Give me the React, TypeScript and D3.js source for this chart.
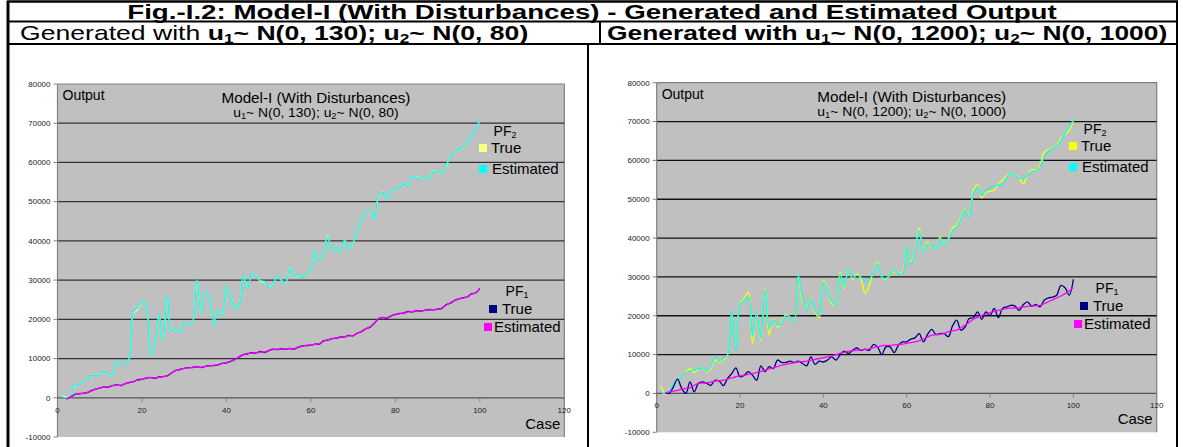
import React, { useEffect, useRef } from 'react';
import * as d3 from 'd3';

// case numbers on the x axis
const cases = d3.range(1, 101);
const xTicks = [0, 20, 40, 60, 80, 100, 120];
const yTicks = [-10000, 0, 10000, 20000, 30000, 40000, 50000, 60000, 70000, 80000];

// ---- left chart: u1 ~ N(0,130), u2 ~ N(0,80)
const leftPF2Est = [
  300, 0, -200, 3200, 3400, 4000, 4800, 5600, 5600, 6000,
  6600, 6100, 5900, 9300, 8500, 8700, 10000, 21900, 22900, 24400,
  23700, 10800, 13400, 21300, 14400, 26100, 17200, 17600, 16800, 19300,
  18600, 19300, 30000, 21400, 26700, 25700, 18600, 22300, 21000, 28500,
  25700, 22700, 23600, 31200, 27800, 31600, 31000, 29900, 29700, 28200,
  28600, 31000, 29900, 29300, 33100, 30800, 31600, 30600, 31600, 32700,
  37300, 35000, 36900, 41200, 37500, 38400, 37100, 40300, 37800, 39700,
  42600, 45200, 47300, 47500, 45600, 51500, 52500, 50800, 52800, 53100,
  53900, 54500, 54100, 56400, 56200, 55600, 56400, 55900, 57700, 57500,
  57300, 59300, 61300, 62400, 63600, 63800, 65500, 66800, 68500, 70800,
];
const leftPF2True = [
  500, 200, -200, 3000, 3500, 4000, 4900, 5500, 5700, 6000,
  6500, 6100, 5900, 9200, 8500, 8800, 10000, 21500, 22500, 24300,
  23700, 10900, 13400, 21200, 14500, 26000, 17400, 17400, 16900, 19200,
  18600, 19400, 29900, 21500, 26600, 25800, 18700, 22200, 21100, 28400,
  25800, 22600, 23700, 31000, 27900, 31500, 31100, 29700, 29400, 28300,
  28600, 30900, 30000, 29200, 33300, 30700, 31400, 30700, 31500, 32900,
  37100, 35100, 36800, 41500, 37400, 38500, 37000, 40200, 37900, 39600,
  42700, 45100, 47400, 47400, 45700, 51200, 52600, 50700, 52900, 53000,
  54000, 54400, 54200, 56300, 56300, 55700, 56300, 56000, 57900, 57400,
  57300, 59000, 61400, 62300, 63700, 63700, 65600, 66700, 68600, 70600,
];
const leftPF1Est = [
  null, -200, 0, 700, 1100, 1100, 1400, 1700, 2200, 2500,
  2800, 2800, 3100, 3200, 3200, 3600, 3800, 4200, 4500, 4700,
  5100, 5100, 5100, 5200, 5400, 5500, 6400, 6900, 7300, 7500,
  7600, 7800, 7800, 7800, 8000, 8100, 8300, 8400, 8700, 9000,
  9300, 9700, 10500, 11000, 11300, 11400, 11500, 11700, 11700, 12000,
  12300, 12400, 12400, 12500, 12500, 12500, 12900, 13100, 13400, 13400,
  13600, 13800, 14400, 14800, 15000, 15300, 15400, 15600, 15800, 15900,
  16400, 17000, 17500, 18100, 18900, 20200, 20400, 20400, 20800, 21300,
  21400, 21700, 21900, 22000, 22100, 22200, 22300, 22400, 22500, 22500,
  22900, 23600, 24200, 24700, 25300, 25400, 25800, 26400, 26800, 27800,
];
const leftPF1True = [
  null, -300, 100, 800, 1000, 1100, 1300, 1800, 2200, 2500,
  2800, 2700, 3100, 3300, 3100, 3600, 3900, 4100, 4600, 4700,
  5000, 5200, 5000, 5300, 5400, 5600, 6300, 7000, 7200, 7500,
  7700, 7700, 7900, 7700, 8000, 8200, 8200, 8400, 8800, 8900,
  9300, 9800, 10400, 11000, 11200, 11500, 11400, 11800, 11600, 12000,
  12400, 12300, 12500, 12400, 12600, 12400, 12900, 13200, 13300, 13400,
  13700, 13700, 14500, 14700, 15100, 15200, 15500, 15500, 15900, 15800,
  16500, 16900, 17600, 18000, 19000, 20100, 20500, 20300, 20900, 21200,
  21500, 21600, 22000, 21900, 22200, 22100, 22300, 22500, 22400, 22600,
  22800, 23700, 24100, 24800, 25200, 25500, 25700, 26500, 26700, 27900,
];

// ---- right chart: u1 ~ N(0,1200), u2 ~ N(0,1000)
const rightPF2True = [
  1900, 0, 0, 1700, 3400, 4300, 5600, 6300, 5400, 6300,
  6600, 5600, 6400, 8600, 8100, 8600, 9900, 21000, 11600, 23100,
  24400, 26100, 12900, 21000, 13700, 27000, 15000, 19100, 17100, 18400,
  20300, 19700, 18600, 30000, 23600, 21900, 24800, 21000, 19500, 29100,
  27000, 23100, 22900, 31300, 27000, 32000, 29400, 30800, 29600, 25700,
  27800, 31400, 33800, 30000, 29400, 30400, 31400, 30800, 31300, 38100,
  33800, 36800, 42600, 36800, 39000, 37700, 37300, 40300, 38100, 39800,
  42600, 43300, 45400, 47400, 45800, 52300, 53700, 50300, 51800, 52000,
  52300, 54000, 54800, 56100, 56600, 56300, 55400, 54000, 56300, 57700,
  57400, 58900, 62100, 62800, 63200, 64000, 65700, 66800, 67700, 70300,
];
const rightPF2Est = [
  300, 0, 400, 2300, 3400, 4300, 5400, 5700, 6000, 6400,
  6600, 5800, 6900, 9400, 8300, 9000, 9900, 21400, 11100, 22700,
  24000, 24800, 14600, 21000, 14100, 26600, 16700, 18900, 17600, 18000,
  20100, 19700, 18400, 30400, 24400, 21400, 24600, 21400, 20100, 28700,
  26600, 23600, 22900, 30800, 27400, 32000, 29700, 30400, 30000, 28700,
  29100, 31300, 33400, 30000, 29600, 30600, 31700, 30800, 30800, 38000,
  33200, 36400, 42000, 36400, 38600, 38000, 37100, 40000, 38000, 39400,
  42000, 42800, 45000, 47100, 45400, 51400, 53100, 51000, 52300, 52900,
  53400, 53700, 53700, 55700, 56600, 56100, 55400, 55300, 56100, 57200,
  57200, 58300, 60800, 62300, 63000, 63700, 65100, 67100, 68600, 70500,
];
const rightPF1True = [
  null, 200, 0, 1700, 3700, 1300, 0, 3000, 400, 2600,
  3000, 2600, 2100, 3400, 3200, 2000, 3900, 5100, 6600, 4300,
  4700, 5600, 4700, 3400, 7100, 5600, 6900, 6400, 8600, 8000,
  8000, 8300, 8000, 8300, 7700, 7100, 9400, 7500, 8300, 8100,
  8600, 9400, 8600, 9900, 10900, 10300, 11100, 11700, 11100, 11400,
  11100, 12600, 12000, 10000, 12000, 12000, 10500, 12400, 13300, 13300,
  14000, 14300, 15400, 13300, 15200, 16500, 15200, 15400, 15400, 14600,
  17400, 18900, 16300, 17100, 19300, 19500, 21000, 19100, 21000, 20100,
  21900, 19500, 21900, 22300, 22700, 22500, 21400, 22900, 23600, 22500,
  22900, 22300, 24000, 24600, 24800, 25300, 27800, 27200, 25300, 29400,
];
const rightPF1Est = [
  null, 100, 400, 600, 800, 1100, 1300, 1500, 2100, 2600,
  2650, 2700, 2900, 3200, 3300, 3400, 3700, 4000, 4300, 4500,
  4700, 4900, 5100, 5400, 5700, 6000, 6300, 6600, 6900, 7300,
  7500, 7700, 7900, 8100, 8200, 8300, 8500, 8800, 9000, 9200,
  9400, 9700, 10000, 10300, 10600, 10900, 11000, 11100, 11200, 11300,
  11500, 11800, 12000, 12300, 12350, 12400, 12500, 12600, 12700, 12900,
  13100, 13300, 13600, 14000, 14500, 15000, 15100, 15200, 15500, 15900,
  16100, 16300, 16900, 17600, 18300, 19100, 19600, 20100, 20400, 20800,
  21100, 21400, 21600, 21900, 21950, 22000, 22100, 22300, 22400, 22500,
  22600, 22700, 23100, 23600, 24100, 24600, 25100, 25700, 26400, 27200,
];

const FONT = '"Liberation Sans", Arial, Helvetica, sans-serif';

type Part = { t: string; sub?: boolean; bold?: boolean };

function rich(sel: any, parts: Part[], subSize: number, shift: number) {
  let down = false;
  parts.forEach(p => {
    const ts = sel.append('tspan').text(p.t);
    if (p.bold) ts.attr('font-weight', 'bold');
    if (p.sub) {
      ts.attr('font-size', subSize);
      if (!down) { ts.attr('dy', shift); down = true; }
    } else if (down) {
      ts.attr('dy', -shift);
      down = false;
    }
  });
}

// text stretched horizontally (the scanned page is wider than the font)
function wideText(sel: any, x: number, y: number, size: number, sx: number, anchor = 'start') {
  return sel.append('text')
    .attr('transform', `translate(${x},${y}) scale(${sx},1)`)
    .attr('font-family', FONT).attr('font-size', size)
    .attr('text-anchor', anchor);
}

interface PanelCfg {
  xRange: [number, number];
  yRange: [number, number];
  pf2True: (number | null)[];
  pf2Est: (number | null)[];
  pf1True: (number | null)[];
  pf1Est: (number | null)[];
  n1: string;
  n2: string;
  gridColor: string;
  yellow: string;
  pf2Leg: { x: number; y: number };
  pf1Leg: { x: number; y: number; dx: number };
}

const panels: PanelCfg[] = [
  {
    xRange: [57.5, 564.3], yRange: [437, 84],
    pf2True: leftPF2True, pf2Est: leftPF2Est, pf1True: leftPF1True, pf1Est: leftPF1Est,
    n1: '130', n2: '80', gridColor: '#333', yellow: '#ffff80',
    pf2Leg: { x: 479, y: 130 }, pf1Leg: { x: 484, y: 290, dx: 5 },
  },
  {
    xRange: [656.7, 1156.7], yRange: [432.3, 82.7],
    pf2True: rightPF2True, pf2Est: rightPF2Est, pf1True: rightPF1True, pf1Est: rightPF1Est,
    n1: '1200', n2: '1000', gridColor: '#111', yellow: '#ffff00',
    pf2Leg: { x: 1069, y: 128 }, pf1Leg: { x: 1074, y: 287, dx: 6 },
  },
];

function drawPanel(svg: any, cfg: PanelCfg) {
  const x = d3.scaleLinear().domain([0, 120]).range(cfg.xRange);
  const y = d3.scaleLinear().domain([-10000, 80000]).range(cfg.yRange);
  const g = svg.append('g').attr('font-family', FONT);
  const [x0, x1] = cfg.xRange;

  g.append('rect')
    .attr('x', x0).attr('y', y(80000))
    .attr('width', x1 - x0).attr('height', y(-10000) - y(80000))
    .attr('fill', '#c0c0c0');
  // plot border top/right
  g.append('path')
    .attr('d', `M${x0},${y(80000)}H${x1}V${y(-10000)}`)
    .attr('fill', 'none').attr('stroke', '#808080').attr('stroke-width', 1.2);

  g.selectAll('.grid')
    .data(yTicks.filter(v => v >= 10000 && v <= 70000))
    .enter().append('line')
    .attr('x1', x0).attr('x2', x1)
    .attr('y1', d => y(d)).attr('y2', d => y(d))
    .attr('stroke', cfg.gridColor).attr('stroke-width', 1.3);

  // y axis
  g.append('line').attr('x1', x0).attr('x2', x0).attr('y1', y(80000)).attr('y2', y(-10000))
    .attr('stroke', '#808080').attr('stroke-width', 1.2);
  g.selectAll('.ytick').data(yTicks).enter().append('line')
    .attr('x1', x0 - 4).attr('x2', x0).attr('y1', d => y(d)).attr('y2', d => y(d))
    .attr('stroke', '#808080').attr('stroke-width', 1);
  g.selectAll('.ylab').data(yTicks).enter().append('text')
    .attr('x', x0 - 7).attr('y', d => y(d)).attr('dy', '0.35em')
    .attr('text-anchor', 'end').attr('font-size', 8).attr('fill', '#222')
    .text(d => String(d));

  // x axis at 0
  g.append('line').attr('x1', x0).attr('x2', x1).attr('y1', y(0)).attr('y2', y(0))
    .attr('stroke', '#555').attr('stroke-width', 1.3);
  g.selectAll('.xtick').data(xTicks).enter().append('line')
    .attr('x1', d => x(d)).attr('x2', d => x(d)).attr('y1', y(0)).attr('y2', y(0) + 4)
    .attr('stroke', '#808080');
  g.selectAll('.xlab').data(xTicks).enter().append('text')
    .attr('x', d => x(d)).attr('y', y(0) + 15)
    .attr('text-anchor', 'middle').attr('font-size', 8).attr('fill', '#222')
    .text(d => String(d));

  const line = d3.line<number | null>()
    .defined(d => d !== null)
    .x((_, i) => x(cases[i]))
    .y(d => y(d as number))
    .curve(d3.curveCatmullRom.alpha(0.5));

  const series: [(number | null)[], string][] = [
    [cfg.pf2True, cfg.yellow],
    [cfg.pf2Est, '#00ffff'],
    [cfg.pf1True, '#000080'],
    [cfg.pf1Est, '#ff00ff'],
  ];
  series.forEach(([vals, color]) => {
    g.append('path').datum(vals)
      .attr('d', line)
      .attr('fill', 'none').attr('stroke', color).attr('stroke-width', 1.3);
  });

  // labels
  g.append('text').attr('x', x0 + 5).attr('y', y(80000) + 16)
    .attr('font-size', 14).text('Output');
  const cx = (x0 + x1) / 2 + 5;
  wideText(g, cx, y(80000) + 19, 14, 1.09, 'middle').text('Model-I (With Disturbances)');
  const t2 = wideText(g, cx, y(80000) + 33, 13.5, 1.03, 'middle');
  rich(t2, [
    { t: 'u' }, { t: '1', sub: true }, { t: '~ N(0, ' + cfg.n1 + '); u' },
    { t: '2', sub: true }, { t: '~ N(0, ' + cfg.n2 + ')' },
  ], 9, 2);

  g.append('text').attr('x', x1 - 4).attr('y', y(-10000) - 8)
    .attr('text-anchor', 'end').attr('font-size', 15).text('Case');

  // legends
  const L2 = cfg.pf2Leg;
  const pf2 = g.append('text').attr('x', L2.x + 26).attr('y', L2.y + 6)
    .attr('text-anchor', 'middle').attr('font-size', 14);
  rich(pf2, [{ t: 'PF' }, { t: '2', sub: true }], 9, 2);
  g.append('rect').attr('x', L2.x).attr('y', L2.y + 14).attr('width', 8).attr('height', 8).attr('fill', cfg.yellow);
  g.append('text').attr('x', L2.x + 12).attr('y', L2.y + 23).attr('font-size', 15).text('True');
  g.append('rect').attr('x', L2.x).attr('y', L2.y + 35).attr('width', 8).attr('height', 8).attr('fill', '#00ffff');
  g.append('text').attr('x', L2.x + 13).attr('y', L2.y + 44).attr('font-size', 15).text('Estimated');

  const L1 = cfg.pf1Leg;
  const pf1 = g.append('text').attr('x', L1.x + 33).attr('y', L1.y + 6)
    .attr('text-anchor', 'middle').attr('font-size', 14);
  rich(pf1, [{ t: 'PF' }, { t: '1', sub: true }], 9, 2);
  g.append('rect').attr('x', L1.x + L1.dx).attr('y', L1.y + 15).attr('width', 8).attr('height', 8).attr('fill', '#000080');
  g.append('text').attr('x', L1.x + L1.dx + 13).attr('y', L1.y + 24).attr('font-size', 15).text('True');
  g.append('rect').attr('x', L1.x).attr('y', L1.y + 33).attr('width', 8).attr('height', 8).attr('fill', '#ff00ff');
  g.append('text').attr('x', L1.x + 10).attr('y', L1.y + 42).attr('font-size', 15).text('Estimated');
}

const App: React.FC = () => {
  const ref = useRef<SVGSVGElement | null>(null);

  useEffect(() => {
    if (!ref.current) return;
    const svg = d3.select(ref.current);
    svg.selectAll('*').remove();

    svg.append('rect').attr('width', 1183).attr('height', 447).attr('fill', '#fff');

    // table frame
    const frame = svg.append('g').attr('stroke', '#000').attr('fill', 'none');
    frame.append('line').attr('x1', 7).attr('x2', 1178).attr('y1', 1.5).attr('y2', 1.5).attr('stroke-width', 2.5);
    frame.append('line').attr('x1', 7).attr('x2', 1178).attr('y1', 21.5).attr('y2', 21.5).attr('stroke-width', 2);
    frame.append('line').attr('x1', 7).attr('x2', 1178).attr('y1', 44).attr('y2', 44).attr('stroke-width', 2);
    frame.append('line').attr('x1', 8).attr('x2', 8).attr('y1', 1).attr('y2', 447).attr('stroke-width', 3);
    frame.append('line').attr('x1', 1177).attr('x2', 1177).attr('y1', 1).attr('y2', 447).attr('stroke-width', 2);
    frame.append('line').attr('x1', 600).attr('x2', 600).attr('y1', 21).attr('y2', 45).attr('stroke-width', 2);
    frame.append('line').attr('x1', 588).attr('x2', 588).attr('y1', 44).attr('y2', 447).attr('stroke-width', 2);

    wideText(svg, 592, 19, 21, 1.32, 'middle')
      .attr('font-weight', 'bold')
      .text('Fig.-I.2: Model-I (With Disturbances) - Generated and Estimated Output');

    const s1 = wideText(svg, 20, 40, 20, 1.33);
    rich(s1, [
      { t: 'Generated with ' }, { t: 'u', bold: true }, { t: '1', sub: true, bold: true },
      { t: '~ N(0, 130); u', bold: true }, { t: '2', sub: true, bold: true }, { t: '~ N(0, 80)', bold: true },
    ], 13, 3);
    const s2 = wideText(svg, 607, 40, 20, 1.32).attr('font-weight', 'bold');
    rich(s2, [
      { t: 'Generated with u' }, { t: '1', sub: true },
      { t: '~ N(0, 1200); u' }, { t: '2', sub: true }, { t: '~ N(0, 1000)' },
    ], 13, 3);

    panels.forEach(p => drawPanel(svg, p));
  }, []);

  return (
    <svg ref={ref} width={1183} height={447}
      style={{ position: 'absolute', left: 0, top: 0, display: 'block' }} />
  );
};

export default App;
